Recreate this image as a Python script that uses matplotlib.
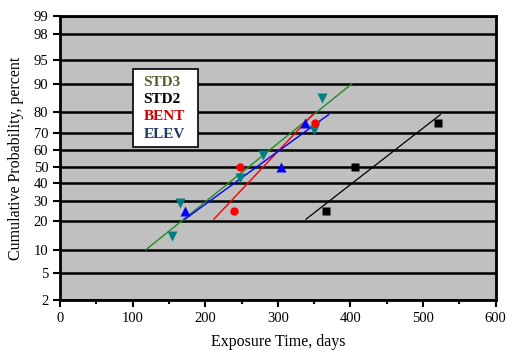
import numpy as np
import matplotlib.pyplot as plt
from statistics import NormalDist

# probability ticks (percent)
prob_ticks = [2, 5, 10, 20, 30, 40, 50, 60, 70, 80, 90, 95, 98, 99]

# STD3 specimens
std3_days = [154, 165, 248, 279, 350, 361]
std3_prob = [14.3, 28.6, 42.9, 57.1, 71.4, 85.7]
std3_fit_days = [118, 402]
std3_fit_prob = [10, 90]

# STD2 specimens
std2_days = [367, 407, 521]
std2_prob = [25, 50, 75]
std2_fit_days = [339, 524]
std2_fit_prob = [21, 79]

# BENT specimens
bent_days = [239, 248, 351]
bent_prob = [25, 50, 75]
bent_fit_days = [212, 348]
bent_fit_prob = [21, 79]

# ELEV specimens
elev_days = [172, 304, 337]
elev_prob = [25, 50, 75]
elev_fit_days = [172, 370]
elev_fit_prob = [21, 79]

_nd = NormalDist()


def z(p):
    """Percent -> standard normal quantile (probability paper)."""
    return np.array([_nd.inv_cdf(v / 100.0) for v in np.atleast_1d(p)])


plt.rcParams['font.family'] = ['Liberation Serif', 'DejaVu Serif']

fig = plt.figure(figsize=(5.21, 3.5), dpi=100)
ax = fig.add_axes([0.1152, 0.143, 0.836, 0.811])
ax.set_facecolor('#C0C0C0')

# fitted lines
ax.plot(std3_fit_days, z(std3_fit_prob), color='#228B22', lw=1.0, zorder=3)
ax.plot(std2_fit_days, z(std2_fit_prob), color='black', lw=0.9, zorder=3)
ax.plot(bent_fit_days, z(bent_fit_prob), color='#FF0000', lw=1.0, zorder=3)
ax.plot(elev_fit_days, z(elev_fit_prob), color='#0000FF', lw=1.0, zorder=3)

# data points
ax.plot(std3_days, z(std3_prob), 'v', color='#008080', ms=7, mec='none', zorder=4)
ax.plot(std2_days, z(std2_prob), 's', color='black', ms=5.8, mec='none', zorder=4)
ax.plot(bent_days, z(bent_prob), 'o', color='#FF0000', ms=6, mec='none', zorder=4)
ax.plot(elev_days, z(elev_prob), '^', color='#0000FF', ms=7, mec='none', zorder=4)

ax.set_xlim(0, 600)
ax.set_ylim(z(2)[0], z(99)[0])
ax.set_xticks(range(0, 601, 100))
ax.set_xticks(range(50, 600, 100), minor=True)
ax.set_yticks(z(prob_ticks))
ax.set_yticklabels([str(p) for p in prob_ticks])
ax.yaxis.grid(True, color='black', lw=1.8)
ax.set_axisbelow(True)

for s in ax.spines.values():
    s.set_linewidth(2)
ax.tick_params(axis='both', which='major', labelsize=10.5, width=1.5, length=5,
               direction='out', colors='black')
ax.tick_params(axis='x', which='minor', width=1.5, length=3, direction='out')

ax.set_xlabel('Exposure Time, days', fontsize=11.5, labelpad=7)
ax.set_ylabel('Cumulative Probability, percent', fontsize=11.5, labelpad=7)

# legend box
legend_items = [('STD3', '#4F6228'), ('STD2', 'black'),
                ('BENT', '#CC0000'), ('ELEV', '#1F3864')]
box = plt.Rectangle((0.168, 0.539), 0.148, 0.274, transform=ax.transAxes,
                    facecolor='white', edgecolor='black', lw=1.2, zorder=5)
ax.add_patch(box)
for i, (name, col) in enumerate(legend_items):
    ax.text(0.192, 0.767 - i * 0.061, name, transform=ax.transAxes,
            color=col, fontsize=11, fontweight='bold', va='center', ha='left',
            zorder=6)

fig.savefig('out.png', dpi=100)
